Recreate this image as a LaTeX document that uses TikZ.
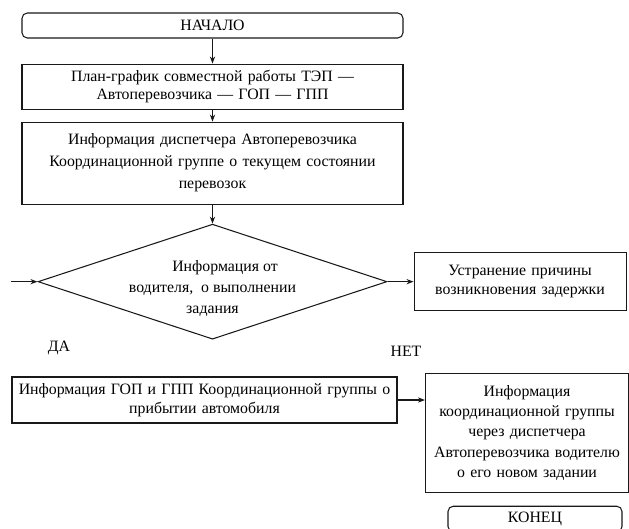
\documentclass[tikz,border=0pt]{standalone}
\usepackage{fontspec}
\setmainfont{Liberation Serif}
\usepackage{tikz}
\usetikzlibrary{shapes.geometric, arrows.meta, positioning}
\definecolor{mydark}{RGB}{25,25,25}
\tikzset{
  block/.style={rectangle, draw=mydark, fill=white,
    text width=#1, align=center, inner xsep=0pt, inner ysep=2pt,
    font=\fontsize{9}{11}\selectfont, line width=0.6pt},
  termblock/.style={rectangle, draw=mydark, fill=white,
    minimum width=#1, minimum height=0.5cm, align=center,
    font=\fontsize{9}{11}\selectfont, rounded corners=3pt, line width=0.6pt},
  decision/.style={diamond, draw=mydark, fill=white,
    minimum width=6.98cm, minimum height=2.3cm, inner sep=0pt, line width=0.6pt},
  lbl/.style={font=\fontsize{9}{11}\selectfont},
  arrow/.style={-{Stealth[length=4pt, width=3pt]}, line width=0.6pt, color=mydark}
}
\begin{document}
\begin{tikzpicture}[node distance=0.3cm and 0.5cm]
  \useasboundingbox (0,0) rectangle (12.58,-10.56);
  \node[termblock=7.62cm] (start) at (4.25,-0.51) {НАЧАЛО};
  \node[block=7.62cm, minimum height=0.9cm, below=0.5cm of start,
    font=\fontsize{9}{10.2}\selectfont] (plan)
    {План-график совместной работы ТЭП —\\Автоперевозчика — ГОП — ГПП};
  \node[block=7.62cm, minimum height=1.64cm, below=0.24cm of plan,
    font=\fontsize{9}{12.5}\selectfont] (info)
    {Информация диспетчера Автоперевозчика\\Координационной группе о текущем состоянии\\перевозок};
  \node[decision, below=0.38cm of info] (check) {};
  \node[lbl, align=center, font=\fontsize{9}{12}\selectfont] (checktext)
    at ([yshift=-0.14cm]check.center)
    {\hspace*{0.5cm}Информация от\\водителя,\ \ о выполнении\\задания};
  \node[block=4.24cm, minimum height=1.16cm, right=0.52cm of check] (fix)
    {Устранение причины\\возникновения задержки};
  \coordinate[left=0.52cm of check.west] (entry);
  \node[lbl] (yes) at (1.18,-6.96) {ДА};
  \node[lbl] (no) at (8.12,-7.02) {НЕТ};
  \node[block=7.7cm, minimum height=0.92cm, font=\fontsize{9}{10.8}\selectfont] (gop) at (4.09,-8.0)
    {Информация ГОП и ГПП Координационной группы о\\прибытии автомобиля};
  \node[block=4.06cm, minimum height=2.38cm, anchor=north west,
    font=\fontsize{9}{11.4}\selectfont] (newtask) at (8.5,-7.46)
    {Информация\\координационной группы\\через диспетчера\\Автоперевозчика водителю\\о его новом задании};
  \node[termblock=3.48cm] (finish) at (10.7,-10.38) {КОНЕЦ};
  \draw[arrow] (start) -- (plan);
  \draw[arrow] (plan) -- (info);
  \draw[arrow] (info) -- (check);
  \draw[arrow] (entry) -- (check.west);
  \draw[arrow] (check) -- (fix);
  \draw[arrow] (gop.east) -- (gop.east -| newtask.west);
\end{tikzpicture}
\end{document}
